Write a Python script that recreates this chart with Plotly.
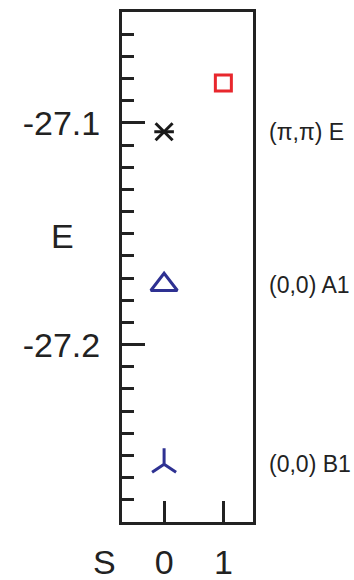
import plotly.graph_objects as go

# Energies of the lowest states for total spin S
spin_S = [1, 0, 0, 0]
energy = [-27.082, -27.104, -27.173, -27.254]
marker_symbols = ["square-open", "x-thin-open", "triangle-up-open", "y-up-open"]
marker_colors = ["#e8272d", "#1a1a1a", "#2e3192", "#2e3192"]
marker_sizes = [16, 17, 23, 20]

# State labels drawn to the right of the frame
state_labels = ["(π,π) E", "(0,0) A1", "(0,0) B1"]
state_energy = [-27.104, -27.173, -27.254]

y_ticks = [-27.1, -27.2]
y_ticktext = ["-27.1", "-27.2"]
x_ticks = [0, 1]

FONT = "Liberation Sans, Arial, sans-serif"
INK = "#222222"

W, H = 354, 580
L, R, T, B = 122, 101, 12, 58


def px_to_paper(px, py):
    return (px - L) / (W - L - R), 1 - (py - T) / (H - T - B)


fig = go.Figure()
for s, e, sym, col, size in zip(spin_S, energy, marker_symbols, marker_colors, marker_sizes):
    fig.add_trace(go.Scatter(
        x=[s], y=[e], mode="markers",
        marker=dict(symbol=sym, size=size, color=col,
                    line=dict(color=col, width=3)),
        showlegend=False, hoverinfo="skip"))

# horizontal bar that turns the black cross into a six-armed asterisk
star = marker_symbols.index("x-thin-open")
fig.add_trace(go.Scatter(
    x=[spin_S[star]], y=[energy[star]], mode="markers",
    marker=dict(symbol="line-ew-open", size=14, color=marker_colors[star],
                line=dict(color=marker_colors[star], width=3)),
    showlegend=False, hoverinfo="skip"))

for lab, e in zip(state_labels, state_energy):
    fig.add_annotation(x=1, xref="paper", y=e, yref="y", text=lab,
                       showarrow=False, xanchor="left", yanchor="middle",
                       xshift=14, font=dict(family=FONT, size=23, color=INK))

ex, ey = px_to_paper(62, 236)
fig.add_annotation(x=ex, y=ey, xref="paper", yref="paper", text="E",
                   xanchor="center", yanchor="middle",
                   showarrow=False, font=dict(family=FONT, size=34, color=INK))
sx, sy = px_to_paper(104, 562)
fig.add_annotation(x=sx, y=sy, xref="paper", yref="paper", text="S",
                   xanchor="center", yanchor="middle",
                   showarrow=False, font=dict(family=FONT, size=34, color=INK))

fig.update_layout(
    width=W, height=H,
    margin=dict(l=L, r=R, t=T, b=B, autoexpand=False),
    paper_bgcolor="white", plot_bgcolor="white",
    font=dict(family=FONT, color=INK),
)
fig.update_xaxes(
    range=[-0.71, 1.5], tickvals=x_ticks, ticktext=[str(v) for v in x_ticks],
    ticks="inside", ticklen=21, tickwidth=3, tickcolor=INK,
    showline=True, linewidth=3, linecolor=INK, mirror=True,
    showgrid=False, zeroline=False, automargin=False,
    tickfont=dict(family=FONT, size=34, color=INK), ticklabelstandoff=8,
)
fig.update_yaxes(
    range=[-27.28, -27.05], tickvals=y_ticks, ticktext=y_ticktext,
    ticks="inside", ticklen=23, tickwidth=3, tickcolor=INK,
    minor=dict(dtick=0.01, tick0=-27.1, ticks="inside", ticklen=12,
               tickwidth=3, tickcolor=INK, showgrid=False),
    showline=True, linewidth=3, linecolor=INK, mirror=True,
    showgrid=False, zeroline=False, automargin=False,
    tickfont=dict(family=FONT, size=34, color=INK), ticklabelstandoff=12,
)

fig.write_html("out.html")
